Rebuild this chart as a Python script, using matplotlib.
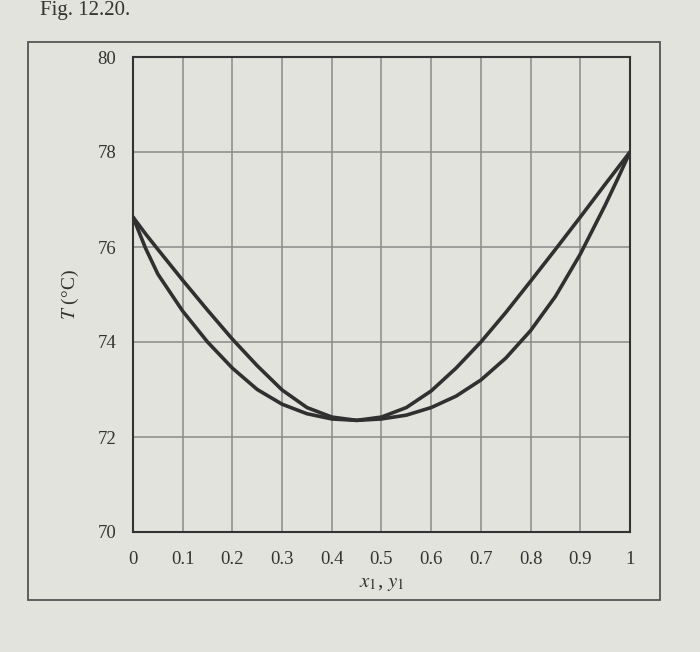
import matplotlib
matplotlib.use("Agg")
import matplotlib.pyplot as plt
from matplotlib.patches import Rectangle

plt.rcParams['font.family'] = ['Liberation Serif', 'DejaVu Serif']
plt.rcParams['mathtext.fontset'] = 'stix'

# composition (mole fraction of component 1)
x1 = [0, 0.025, 0.05, 0.1, 0.15, 0.2, 0.25, 0.3, 0.35, 0.4, 0.45, 0.5,
      0.55, 0.6, 0.65, 0.7, 0.75, 0.8, 0.85, 0.9, 0.95, 0.975, 1]
# dew curve (vapour, upper)
T_dew = [76.63, 76.28, 75.95, 75.3, 74.67, 74.06, 73.5, 72.99, 72.62, 72.42, 72.35, 72.42,
         72.62, 72.97, 73.45, 74.0, 74.62, 75.28, 75.95, 76.63, 77.32, 77.66, 78.0]
# bubble curve (liquid, lower)
T_bub = [76.63, 75.98, 75.43, 74.65, 74.0, 73.45, 73.0, 72.69, 72.49, 72.38, 72.35, 72.38,
         72.46, 72.62, 72.86, 73.2, 73.66, 74.24, 74.96, 75.85, 76.88, 77.43, 78.0]

xticks = [0, 0.1, 0.2, 0.3, 0.4, 0.5, 0.6, 0.7, 0.8, 0.9, 1]
xticklabels = ['0', '0.1', '0.2', '0.3', '0.4', '0.5', '0.6', '0.7', '0.8', '0.9', '1']
yticks = [70, 72, 74, 76, 78, 80]

paper = '#e3e3de'
ink = '#303030'

fig = plt.figure(figsize=(7, 6.52), dpi=100, facecolor=paper)

# outer figure frame
fig.patches.append(Rectangle((28 / 700, 1 - 600 / 652), 632 / 700, 558 / 652,
                             transform=fig.transFigure, fill=False,
                             edgecolor='#555555', lw=1.3))
fig.text(40 / 700, 1 - 10 / 652, 'Fig. 12.20.', fontsize=15, color='#333333',
         ha='left', va='center')

ax = fig.add_axes([133 / 700, 1 - 532 / 652, 497 / 700, 475 / 652])
ax.set_facecolor(paper)

ax.plot(x1, T_dew, color=ink, lw=2.6, solid_capstyle='round', solid_joinstyle='round')
ax.plot(x1, T_bub, color=ink, lw=2.6, solid_capstyle='round', solid_joinstyle='round')

ax.set_xlim(0, 1)
ax.set_ylim(70, 80)
ax.set_xticks(xticks)
ax.set_xticklabels(xticklabels)
ax.set_yticks(yticks)
ax.grid(True, color='#8a8a8a', lw=1.1)
ax.set_axisbelow(True)
ax.tick_params(length=0, labelsize=13.5, colors='#333333', pad=14)
ax.tick_params(axis='y', pad=12)
for s in ax.spines.values():
    s.set_color('#333333')
    s.set_linewidth(1.5)

ax.set_xlabel(r'$x_1$, $y_1$', fontsize=15, color='#333333', labelpad=4)
ax.set_ylabel(r'$T$ (°C)', fontsize=14, color='#333333', labelpad=12)

fig.savefig('out.png', dpi=100, facecolor=paper)
